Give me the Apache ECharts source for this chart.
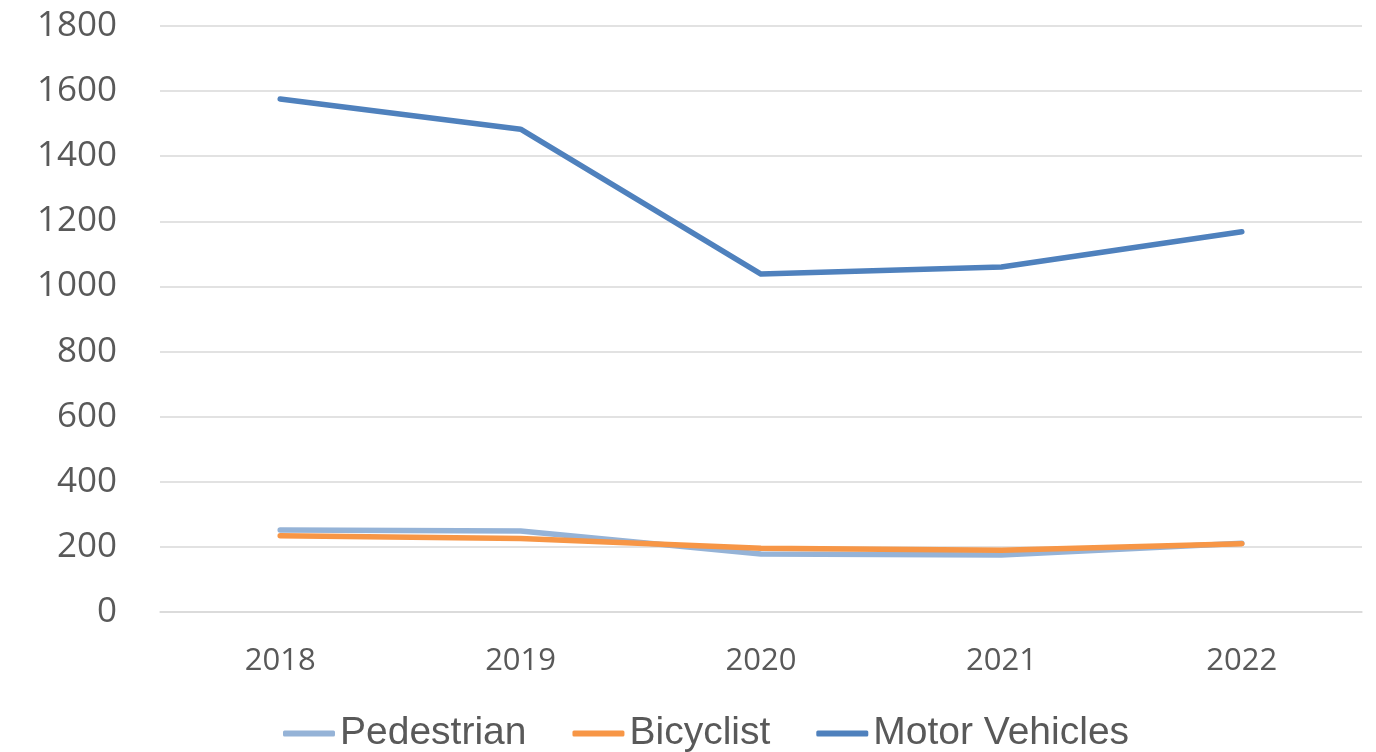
<!DOCTYPE html>
<html>
<head>
<meta charset="utf-8">
<script src="https://cdn.jsdelivr.net/npm/echarts@6/dist/echarts.min.js"></script>
<style>
  html, body { margin: 0; padding: 0; background: #fff; }
  #chart { width: 1376px; height: 752px; }
</style>
</head>
<body>
<div id="chart"></div>
<script>
// Data
const years = ['2018', '2019', '2020', '2021', '2022'];
const pedestrian = [252, 249, 178, 175, 211];
const bicyclist = [234, 226, 196, 190, 210];
const motorVehicles = [1576, 1483, 1038, 1060, 1168];

const chart = echarts.init(document.getElementById('chart'));

const lineSeries = (name, data, color) => ({
    name: name,
    type: 'line',
    data: data,
    symbol: 'none',
    lineStyle: { width: 5.5, color: color, cap: 'round', join: 'round' },
    itemStyle: { color: color },
    emphasis: { disabled: true }
});

const option = {
    animation: false,
    grid: { left: 160, right: 14, top: 26, bottom: 140 },
    legend: {
        bottom: -6,
        left: 278,
        itemGap: 46,
        itemWidth: 52,
        itemHeight: 6,
        icon: 'roundRect',
        textStyle: {
            fontFamily: 'Liberation Sans Narrow, Liberation Sans, sans-serif',
            fontSize: 39,
            color: '#595959',
            padding: [0, 0, 0, 0]
        }
    },
    xAxis: {
        type: 'category',
        data: years,
        boundaryGap: true,
        axisLine: { show: true, lineStyle: { color: '#d9d9d9', width: 1.5 } },
        axisTick: { show: false },
        axisLabel: {
            fontFamily: 'Open Sans, sans-serif',
            fontSize: 31,
            color: '#595959',
            margin: 34
        }
    },
    yAxis: {
        type: 'value',
        min: 0,
        max: 1800,
        interval: 200,
        axisLine: { show: false },
        axisTick: { show: false },
        splitLine: { lineStyle: { color: '#d9d9d9', width: 1.5 } },
        axisLabel: {
            fontFamily: 'Open Sans, sans-serif',
            fontSize: 35,
            color: '#595959',
            margin: 43,
            formatter: (v) => String(v)
        }
    },
    series: [
        lineSeries('Pedestrian', pedestrian, '#95b3d7'),
        lineSeries('Bicyclist', bicyclist, '#f79646'),
        lineSeries('Motor Vehicles', motorVehicles, '#4f81bd')
    ]
};

chart.setOption(option);
</script>
</body>
</html>
